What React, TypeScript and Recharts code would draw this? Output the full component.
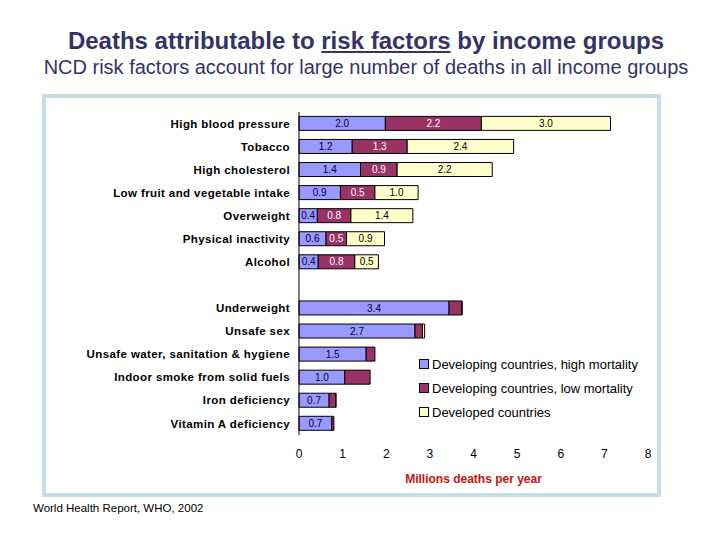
import React from "react";
import { BarChart, Bar, XAxis, YAxis, LabelList } from "recharts";

const categories = [
  "High blood pressure",
  "Tobacco",
  "High cholesterol",
  "Low fruit and vegetable intake",
  "Overweight",
  "Physical inactivity",
  "Alcohol",
  "",
  "Underweight",
  "Unsafe sex",
  "Unsafe water, sanitation & hygiene",
  "Indoor smoke from solid fuels",
  "Iron deficiency",
  "Vitamin A deficiency",
];

const highMortality = [1.98, 1.22, 1.41, 0.95, 0.42, 0.62, 0.44, null, 3.44, 2.66, 1.54, 1.05, 0.69, 0.75];
const lowMortality = [2.2, 1.26, 0.84, 0.79, 0.77, 0.47, 0.84, null, 0.29, 0.17, 0.2, 0.58, 0.15, 0.05];
const developed = [2.96, 2.44, 2.18, 0.99, 1.42, 0.87, 0.54, null, 0.01, 0.05, 0, 0, 0.01, 0];

const highLabels = ["2.0", "1.2", "1.4", "0.9", "0.4", "0.6", "0.4", "", "3.4", "2.7", "1.5", "1.0", "0.7", "0.7"];
const lowLabels = ["2.2", "1.3", "0.9", "0.5", "0.8", "0.5", "0.8", "", "", "", "", "", "", ""];
const devLabels = ["3.0", "2.4", "2.2", "1.0", "1.4", "0.9", "0.5", "", "", "", "", "", "", ""];

const xTicks = [0, 1, 2, 3, 4, 5, 6, 7, 8];

const seriesNames = [
  "Developing countries, high mortality",
  "Developing countries, low mortality",
  "Developed countries",
];
const seriesColors = ["#9999ff", "#993366", "#ffffcc"];

const data = categories.map((name, i) => ({
  name,
  high: highMortality[i],
  low: lowMortality[i],
  dev: developed[i],
  hl: highLabels[i],
  ll: lowLabels[i],
  dl: devLabels[i],
}));

const FONT = "'Liberation Sans', Arial, sans-serif";

export default function App() {
  return (
    <div style={{ position: "absolute", left: 0, top: 0, width: 720, height: 540, background: "#fff", fontFamily: FONT }}>
      <div
        style={{
          position: "absolute",
          left: 0,
          width: 732,
          top: 27,
          textAlign: "center",
          fontSize: 24,
          lineHeight: "28px",
          fontWeight: "bold",
          color: "#333366",
        }}
      >
        Deaths attributable to <span style={{ textDecoration: "underline" }}>risk factors</span> by income groups
      </div>
      <div
        style={{
          position: "absolute",
          left: 0,
          width: 732,
          top: 55,
          textAlign: "center",
          fontSize: 20,
          lineHeight: "24px",
          color: "#333366",
        }}
      >
        NCD risk factors account for large number of deaths in all income groups
      </div>
      <div
        style={{
          position: "absolute",
          left: 42,
          top: 94,
          width: 611,
          height: 395,
          border: "4px solid #c2dfe4",
        }}
      />
      <div style={{ position: "absolute", left: 0, top: 0 }}>
        <BarChart
          width={720}
          height={540}
          data={data}
          layout="vertical"
          margin={{ top: 112, right: 72, bottom: 75, left: 39 }}
          barCategoryGap="19%"
        >
          <XAxis
            type="number"
            domain={[0, 8]}
            ticks={xTicks}
            axisLine={false}
            tickLine={false}
            tickSize={0}
            tickMargin={14}
            height={30}
            tick={{ fontSize: 12, fill: "#000", fontFamily: FONT }}
          />
          <YAxis
            type="category"
            dataKey="name"
            width={260}
            axisLine={{ stroke: "#000" }}
            tickLine={false}
            tickSize={0}
            tickMargin={9}
            interval={0}
            tick={{ fontSize: 11.5, fontWeight: "bold", fill: "#000", fontFamily: FONT, letterSpacing: 0.4 }}
          />
          <Bar dataKey="high" stackId="a" fill={seriesColors[0]} stroke="#000" strokeWidth={1} isAnimationActive={false}>
            <LabelList dataKey="hl" position="center" fill="#000033" fontSize={10} fontFamily={FONT} />
          </Bar>
          <Bar dataKey="low" stackId="a" fill={seriesColors[1]} stroke="#000" strokeWidth={1} isAnimationActive={false}>
            <LabelList dataKey="ll" position="center" fill="#ffffff" fontSize={10} fontFamily={FONT} />
          </Bar>
          <Bar dataKey="dev" stackId="a" fill={seriesColors[2]} stroke="#000" strokeWidth={1} isAnimationActive={false}>
            <LabelList dataKey="dl" position="center" fill="#000" fontSize={10} fontFamily={FONT} />
          </Bar>
        </BarChart>
      </div>
      <div style={{ position: "absolute", left: 419, top: 352, fontSize: 13, color: "#000" }}>
        {seriesNames.map((n, i) => (
          <div key={n} style={{ display: "flex", alignItems: "center", height: 24 }}>
            <span
              style={{
                display: "inline-block",
                width: 8,
                height: 8,
                background: seriesColors[i],
                border: "1px solid #000",
                marginRight: 3,
              }}
            />
            <span>{n}</span>
          </div>
        ))}
      </div>
      <div
        style={{
          position: "absolute",
          left: 299,
          width: 349,
          top: 472,
          textAlign: "center",
          fontSize: 12,
          fontWeight: "bold",
          color: "#cc1111",
        }}
      >
        Millions deaths per year
      </div>
      <div style={{ position: "absolute", left: 33, top: 502, fontSize: 11.5, color: "#000" }}>
        World Health Report, WHO, 2002
      </div>
    </div>
  );
}
